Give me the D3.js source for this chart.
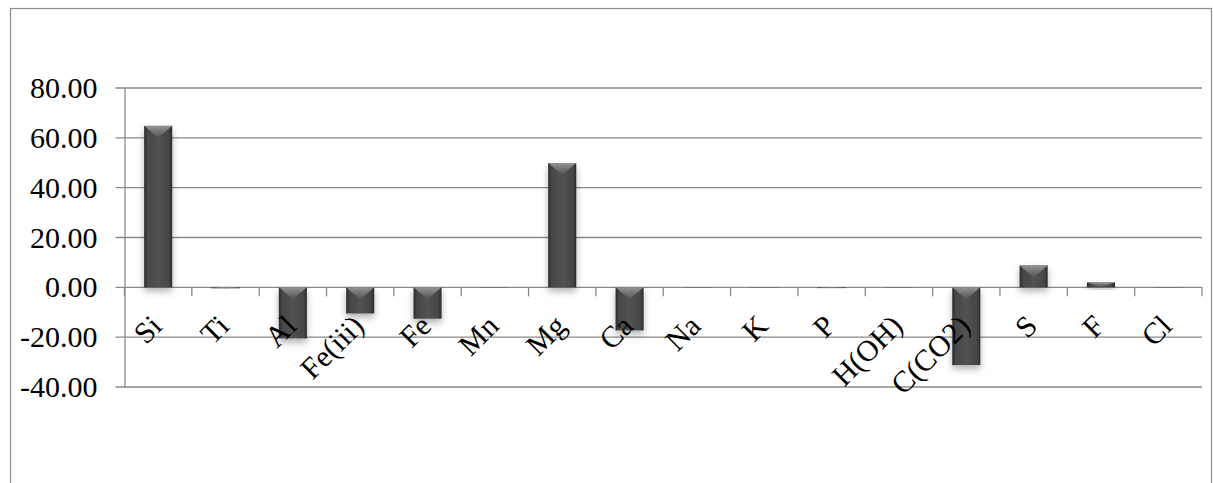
<!DOCTYPE html>
<html>
<head>
<meta charset="utf-8">
<script src="https://cdn.jsdelivr.net/npm/d3@7"></script>
<style>
  body { margin: 0; background: #fff; }
  svg { display: block; }
</style>
</head>
<body>
<div id="chart"></div>
<script>
// data
const categories = ["Si", "Ti", "Al", "Fe(iii)", "Fe", "Mn", "Mg", "Ca", "Na", "K", "P", "H(OH)", "C(CO2)", "S", "F", "Cl"];
const values = [64.8, -0.4, -20.5, -10.5, -12.6, -0.1, 49.9, -17.3, -0.1, -0.1, -0.3, -0.1, -31.2, 8.8, 2.0, -0.1];
const yTicks = [-40, -20, 0, 20, 40, 60, 80];

const W = 1213, H = 483;
const plot = { left: 124.5, right: 1202, top: 88, bottom: 387 };
const FONT = "'Times New Roman', 'Liberation Serif', Times, serif";

const svg = d3.select("#chart").append("svg")
    .attr("width", W)
    .attr("height", H);

const defs = svg.append("defs");

const body = defs.append("linearGradient").attr("id", "barBody")
    .attr("x1", "0%").attr("x2", "100%").attr("y1", "0%").attr("y2", "0%");
body.append("stop").attr("offset", "0%").attr("stop-color", "#2b2b2b");
body.append("stop").attr("offset", "12%").attr("stop-color", "#464646");
body.append("stop").attr("offset", "50%").attr("stop-color", "#525252");
body.append("stop").attr("offset", "88%").attr("stop-color", "#464646");
body.append("stop").attr("offset", "100%").attr("stop-color", "#2b2b2b");

const bevel = defs.append("linearGradient").attr("id", "bevel")
    .attr("x1", "0%").attr("x2", "0%").attr("y1", "0%").attr("y2", "100%");
bevel.append("stop").attr("offset", "0%").attr("stop-color", "#a0a0a0");
bevel.append("stop").attr("offset", "100%").attr("stop-color", "#525252");

const shadow = defs.append("filter").attr("id", "shadow")
    .attr("x", "-50%").attr("y", "-50%").attr("width", "200%").attr("height", "200%");
shadow.append("feDropShadow")
    .attr("dx", 0).attr("dy", 4).attr("stdDeviation", 3.5)
    .attr("flood-color", "#000").attr("flood-opacity", 0.3);

// outer frame
svg.append("rect")
    .attr("x", 10.5).attr("y", 8.5)
    .attr("width", 1201).attr("height", 500)
    .attr("fill", "none")
    .attr("stroke", "#8c8c8c")
    .attr("stroke-width", 1.2);

const y = d3.scaleLinear().domain([-40, 80]).range([plot.bottom, plot.top]);

const xStep = d3.scaleBand().domain(categories).range([plot.left, plot.right]).padding(0);
const x = d3.scaleBand().domain(categories).range([plot.left, plot.right])
    .paddingInner(1.4 / 2.4).paddingOuter(0.7 / 2.4);

// gridlines
svg.append("g").selectAll("line")
    .data(yTicks)
    .join("line")
    .attr("x1", plot.left - 9).attr("x2", plot.right)
    .attr("y1", d => y(d)).attr("y2", d => y(d))
    .attr("stroke", "#8a8a8a")
    .attr("stroke-width", 1.3);

// y axis
const yAxis = d3.axisLeft(y)
    .tickValues(yTicks)
    .tickSize(0)
    .tickPadding(27)
    .tickFormat(d => d.toFixed(2));

const gy = svg.append("g")
    .attr("transform", "translate(" + plot.left + ",0)")
    .call(yAxis)
    .attr("font-family", FONT)
    .attr("font-size", 30);
gy.select(".domain").attr("stroke", "#8a8a8a").attr("stroke-width", 1.3);
gy.selectAll("text").attr("fill", "#000");

// ticks on the zero line at band boundaries
const edges = d3.range(categories.length + 1).map(i => plot.left + i * xStep.step());
svg.append("g").selectAll("line")
    .data(edges)
    .join("line")
    .attr("x1", d => d).attr("x2", d => d)
    .attr("y1", y(0)).attr("y2", y(0) + 9)
    .attr("stroke", "#8a8a8a")
    .attr("stroke-width", 1.3);

// bars
const bars = svg.append("g").selectAll("g")
    .data(categories.map((c, i) => ({ c: c, v: values[i] })))
    .join("g");

bars.append("rect")
    .attr("x", d => x(d.c))
    .attr("y", d => Math.min(y(d.v), y(0)))
    .attr("width", x.bandwidth())
    .attr("height", d => Math.abs(y(d.v) - y(0)))
    .attr("fill", "url(#barBody)")
    .attr("filter", "url(#shadow)");

bars.append("path")
    .attr("d", d => {
        const top = Math.min(y(d.v), y(0));
        const h = Math.abs(y(d.v) - y(0));
        const depth = Math.min(12, h);
        const x0 = x(d.c), w = x.bandwidth();
        return "M" + x0 + "," + top + "L" + (x0 + w) + "," + top +
            "L" + (x0 + w / 2) + "," + (top + depth) + "Z";
    })
    .attr("fill", "url(#bevel)")
    .attr("opacity", 0.85);

// category labels
const labels = svg.append("g")
    .attr("font-family", FONT)
    .attr("font-size", 30)
    .selectAll("g")
    .data(categories)
    .join("g")
    .attr("transform", d => "translate(" + (xStep(d) + xStep.bandwidth() / 2 - 2) + "," + (y(0) + 33) + ") rotate(-45)");

labels.append("text")
    .attr("text-anchor", "end")
    .attr("dy", "0.35em")
    .text(d => d);
</script>
</body>
</html>
